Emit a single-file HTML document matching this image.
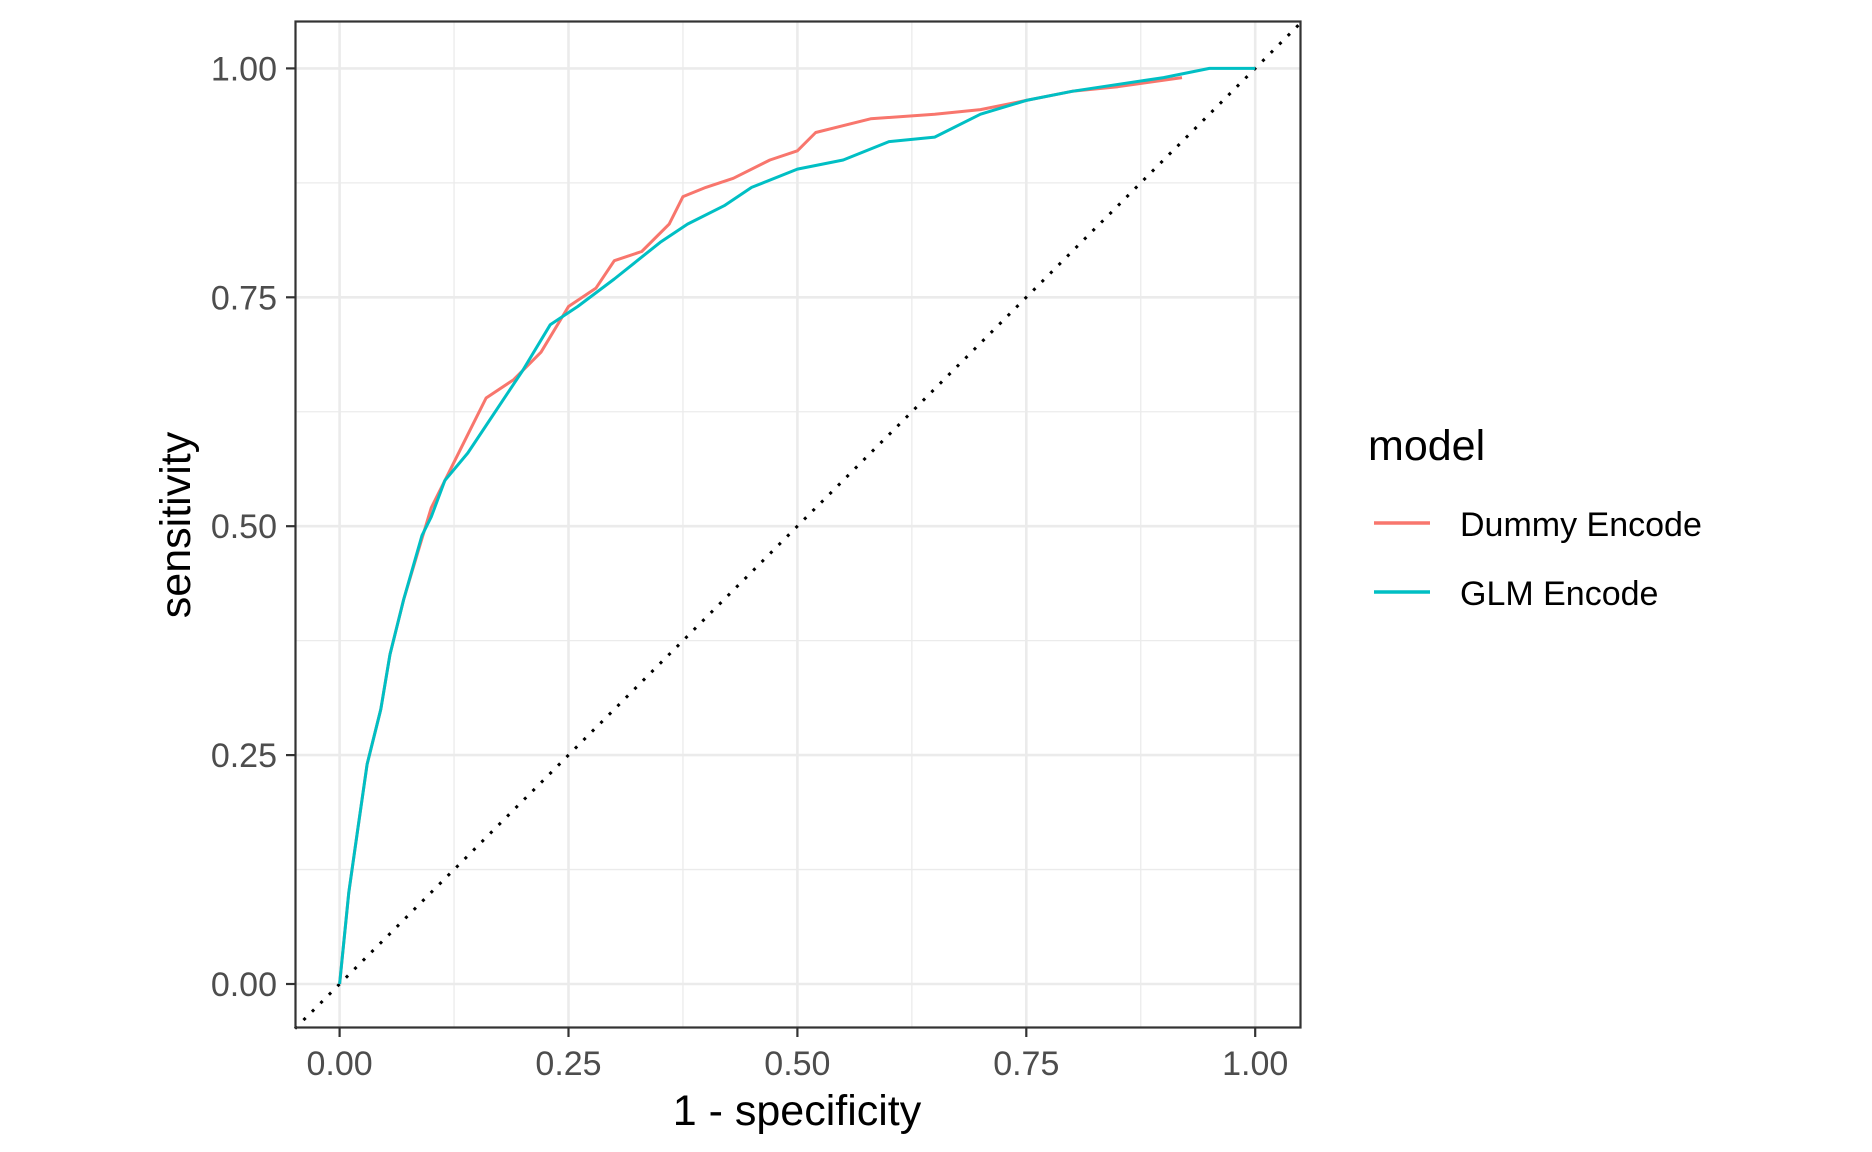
<!DOCTYPE html>
<html><head><meta charset="utf-8"><style>
html,body{margin:0;padding:0;background:#fff;}
svg{display:block;font-family:"Liberation Sans",Arial,sans-serif;}
</style></head><body>
<svg id="chart" width="1872" height="1152" viewBox="0 0 1872 1152" xmlns="http://www.w3.org/2000/svg">
<rect width="1872" height="1152" fill="#fff"/>
<g id="grid"></g>
<g id="ticks"></g>
<line id="diag" stroke="#000" stroke-width="3" stroke-dasharray="3,9"/>
<g id="series"></g>
<rect x="295.5" y="21.5" width="1005" height="1006" fill="none" stroke="#333" stroke-width="2.2"/>
<text x="797" y="1125" font-size="43" text-anchor="middle" fill="#000">1 - specificity</text>
<text transform="translate(190,525) rotate(-90)" font-size="43" text-anchor="middle" fill="#000">sensitivity</text>
<g>
<text x="1368" y="460" font-size="43" fill="#000">model</text>
<line x1="1374" x2="1430" y1="523" y2="523" stroke="#F8766D" stroke-width="3.5"/>
<text x="1460" y="536" font-size="34" fill="#000">Dummy Encode</text>
<line x1="1374" x2="1430" y1="592" y2="592" stroke="#00BFC4" stroke-width="3.5"/>
<text x="1460" y="605" font-size="34" fill="#000">GLM Encode</text>
</g>
</svg>
<script>
const tickValues=[0,0.25,0.5,0.75,1];
const tickLabels=["0.00","0.25","0.50","0.75","1.00"];
const dummyX=[0,0.01,0.02,0.03,0.045,0.055,0.07,0.085,0.1,0.12,0.14,0.16,0.19,0.22,0.25,0.28,0.3,0.33,0.36,0.375,0.4,0.43,0.47,0.5,0.52,0.58,0.65,0.7,0.75,0.8,0.85,0.92];
const dummyY=[0,0.1,0.17,0.24,0.3,0.36,0.42,0.47,0.52,0.56,0.6,0.64,0.66,0.69,0.74,0.76,0.79,0.8,0.83,0.86,0.87,0.88,0.9,0.91,0.93,0.945,0.95,0.955,0.965,0.975,0.98,0.99];
const glmX=[0,0.01,0.02,0.03,0.045,0.055,0.07,0.09,0.1,0.115,0.14,0.16,0.2,0.23,0.26,0.3,0.35,0.38,0.42,0.45,0.5,0.55,0.6,0.65,0.7,0.75,0.8,0.9,0.95,1];
const glmY=[0,0.1,0.17,0.24,0.3,0.36,0.42,0.49,0.51,0.55,0.58,0.61,0.67,0.72,0.74,0.77,0.81,0.83,0.85,0.87,0.89,0.9,0.92,0.925,0.95,0.965,0.975,0.99,1,1];
const NS='http://www.w3.org/2000/svg';
const X0=295,X1=1301,Y0=1028,Y1=21;
const sx=v=>339.6+v*(1255.2-339.6);
const sy=v=>984-v*(984-68.4);
function mk(tag,attrs,parent){const e=document.createElementNS(NS,tag);for(const k in attrs)e.setAttribute(k,attrs[k]);parent.appendChild(e);return e;}
const grid=document.getElementById('grid'),ticks=document.getElementById('ticks');
for(let i=0;i<tickValues.length-1;i++){
  const m=(tickValues[i]+tickValues[i+1])/2;
  const a=mk('line',{x1:sx(m),x2:sx(m),y1:Y1,y2:Y0,stroke:'#ebebeb','stroke-width':1.3},grid);
  
  
  const b=mk('line',{x1:X0,x2:X1,y1:sy(m),y2:sy(m),stroke:'#ebebeb','stroke-width':1.3},grid);
  
  
}
tickValues.forEach((v,i)=>{
  const a=mk('line',{x1:sx(v),x2:sx(v),y1:Y1,y2:Y0,stroke:'#ebebeb','stroke-width':2.6},grid);
  
  
  const b=mk('line',{x1:X0,x2:X1,y1:sy(v),y2:sy(v),stroke:'#ebebeb','stroke-width':2.6},grid);
  
  
  const tx=mk('line',{x1:sx(v),x2:sx(v),y1:Y0,y2:Y0+9,stroke:'#333','stroke-width':2.2},ticks);
  
  
  const ty=mk('line',{x1:X0-9,x2:X0,y1:sy(v),y2:sy(v),stroke:'#333','stroke-width':2.2},ticks);
  
  
  const lx=mk('text',{x:sx(v),y:1075,'font-size':34,'text-anchor':'middle',fill:'#4d4d4d'},ticks);
  lx.textContent=tickLabels[i];
  
  
  const ly=mk('text',{x:X0-18,y:sy(v)+12,'font-size':34,'text-anchor':'end',fill:'#4d4d4d'},ticks);
  ly.textContent=tickLabels[i];
  
  
});
const d=document.getElementById('diag');
d.setAttribute('x1',X0);d.setAttribute('y1',sy((X0-339.6)/(1255.2-339.6)));
d.setAttribute('x2',X1);d.setAttribute('y2',sy((X1-339.6)/(1255.2-339.6)));
const series=document.getElementById('series');
function drawLine(xs,ys,color,name){
  const pts=xs.map((x,i)=>sx(x).toFixed(1)+','+sy(ys[i]).toFixed(1)).join(' ');
  const p=mk('polyline',{points:pts,fill:'none',stroke:color,'stroke-width':3,'stroke-linejoin':'round'},series);
  
  
}
drawLine(dummyX,dummyY,'#F8766D','dummy-encode-roc-line');
drawLine(glmX,glmY,'#00BFC4','glm-encode-roc-line');
</script>
</body></html>
